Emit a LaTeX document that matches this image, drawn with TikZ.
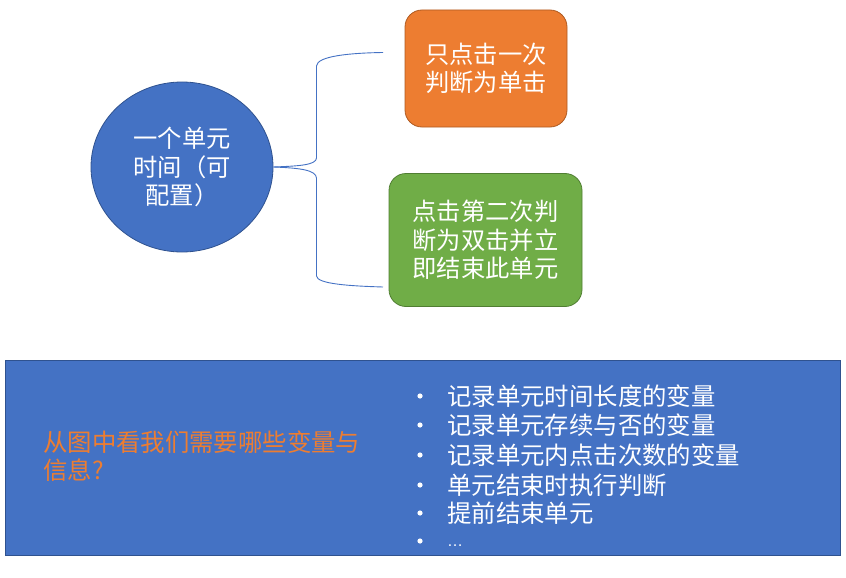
\documentclass[tikz,border=0pt]{standalone}
\usepackage{fontspec}
\setmainfont{Noto Sans CJK SC}
\newfontfamily\latinfont{Liberation Sans}
\usetikzlibrary{shapes.geometric}
\definecolor{mblue}{HTML}{4472C4}
\definecolor{mblueb}{HTML}{2F528F}
\definecolor{morange}{HTML}{ED7D31}
\definecolor{moranb}{HTML}{AE5A21}
\definecolor{mgreen}{HTML}{70AD47}
\definecolor{mgreenb}{HTML}{507E32}
\tikzset{
  txt/.style={font=\fontsize{24.3}{28.5}\selectfont, text=white, align=center, inner sep=0pt},
  rbox/.style={rounded corners=17pt, line width=0.8pt, inner sep=0pt},
  brace/.style={draw=mblue, line width=0.9pt},
  item/.style={font=\fontsize{24.4}{29}\selectfont, text=white, anchor=west, inner sep=0pt, text height=21pt, text depth=3pt},
}
\begin{document}
\begin{tikzpicture}[x=1pt,y=-1pt]
\useasboundingbox (0,0) rectangle (846,578);
\node[ellipse, fill=mblue, draw=mblueb, line width=0.8pt, minimum width=182pt, minimum height=170pt, txt] (e) at (182,167) {一个单元\\时间（可\\配置）};
\node[rbox, fill=morange, draw=moranb, minimum width=162pt, minimum height=117pt, txt] (o) at (486,68.5) {只点击一次\\判断为单击};
\node[rbox, fill=mgreen, draw=mgreenb, minimum width=193pt, minimum height=133pt, txt] (g) at (485.5,240) {点击第二次判\\断为双击并立\\即结束此单元};
\coordinate (bt) at (383,52.5);
\coordinate (bb) at (383,287);
\draw[brace] (e.east) .. controls (300,166) and (316,165) .. (316.5,158) -- (316.5,66) .. controls (317,56) and (350,53) .. (bt);
\draw[brace] (e.east) .. controls (300,168) and (316,170) .. (316.5,178) -- (316.5,276) .. controls (317,284) and (350,286) .. (bb);
\node[fill=mblue, draw=mblueb, line width=0.8pt, minimum width=835pt, minimum height=195pt, inner sep=0pt] (r) at (422.5,457.5) {};
\node[font=\fontsize{24.4}{28.5}\selectfont, text=morange, align=left, anchor=west, inner sep=0pt] (q) at (43,456) {从图中看我们需要哪些变量与\\信息?};
\foreach \y/\t [count=\i] in {396/记录单元时间长度的变量, 425/记录单元存续与否的变量, 455/记录单元内点击次数的变量, 485/单元结束时执行判断, 513/提前结束单元}{
  \node[item] (it\i) at (447,\y) {\t};
  \fill[white] (420,\y) circle (2.6pt);
}
\node[item] (it6) at (447,537) {\latinfont\fontsize{16}{20}\selectfont …};
\fill[white] (420,541) circle (2.6pt);
\end{tikzpicture}
\end{document}
